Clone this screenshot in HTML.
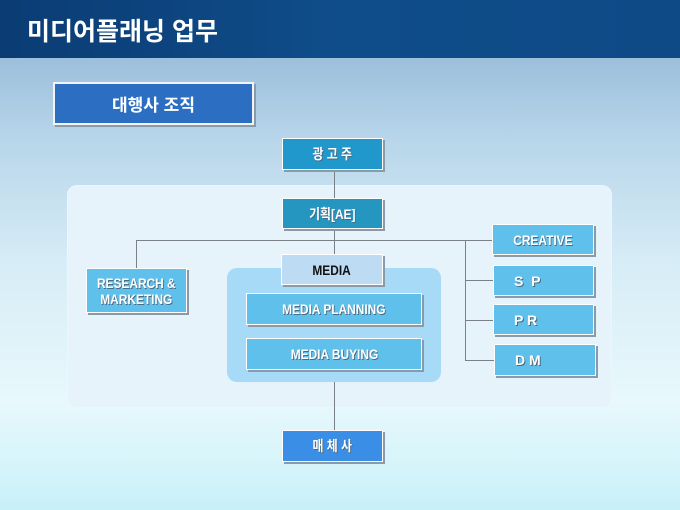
<!DOCTYPE html>
<html><head><meta charset="utf-8"><style>
body{margin:0;width:680px;height:510px;overflow:hidden;position:relative;font-family:"Liberation Sans","Noto Sans CJK KR",sans-serif;
background:linear-gradient(180deg,#9cbfdc 58px,#b8d6ea 140px,#d6ecf6 260px,#e8f8fc 400px,#d4f4fa 470px,#c8f0f8 510px);}
.hdr{position:absolute;left:0;top:0;width:680px;height:58px;background:linear-gradient(90deg,#0b3c74,#0f4d8a 50%,#0d4a86);}
.hdr span{position:absolute;left:27px;top:12px;color:#fff;font-size:25px;font-weight:bold;letter-spacing:0px}
.b{position:absolute;box-sizing:border-box;border:1px solid #fff;box-shadow:2px 2px 0 #8a9aa8;color:#fff;font-weight:bold;display:flex;align-items:center;justify-content:center;text-align:center;font-size:14px;text-shadow:1px 1px 0 #4a6a80;}
.b span{display:inline-block;transform:scaleX(0.85);}
.l{position:absolute;background:#7a8088}
.panel{position:absolute;left:67px;top:185px;width:545px;height:223px;border-radius:10px;background:#e6f3fb;border:1px dotted #f4faff;box-sizing:border-box}
.mp{position:absolute;left:227px;top:268px;width:214px;height:114px;border-radius:10px;background:#a6daf7}
</style></head><body>
<div class="hdr"><span>미디어플래닝 업무</span></div>
<div class="b" style="left:53px;top:82px;width:201px;height:43px;background:#2c6ec2;border:2px solid #f0f4f8;font-size:17px;text-shadow:none">대행사 조직</div>
<div class="panel"></div>
<div class="l" style="left:334px;top:170px;width:1px;height:260px"></div>
<div class="l" style="left:136px;top:240px;width:356px;height:1px"></div>
<div class="l" style="left:136px;top:240px;width:1px;height:28px"></div>
<div class="l" style="left:465px;top:240px;width:1px;height:120px"></div>
<div class="l" style="left:465px;top:280px;width:28px;height:1px"></div>
<div class="l" style="left:465px;top:320px;width:28px;height:1px"></div>
<div class="l" style="left:465px;top:360px;width:29px;height:1px"></div>
<div class="mp"></div>
<div class="b" style="left:282px;top:138px;width:101px;height:32px;background:#2198cc"><span>광 고 주</span></div>
<div class="b" style="left:282px;top:198px;width:101px;height:31px;background:#2596c0"><span>기획[AE]</span></div>
<div class="b" style="left:86px;top:268px;width:101px;height:45px;background:#60c0ec;font-size:14px;line-height:16px"><span>RESEARCH &amp;<br>MARKETING</span></div>
<div class="b" style="left:281px;top:254px;width:102px;height:31px;background:#bddcf4;color:#111;text-shadow:none"><span>MEDIA</span></div>
<div class="b" style="left:246px;top:293px;width:176px;height:32px;background:#5fc0ec;font-size:14px"><span>MEDIA PLANNING</span></div>
<div class="b" style="left:246px;top:338px;width:176px;height:32px;background:#5fc0ec;font-size:14px"><span>MEDIA BUYING</span></div>
<div class="b" style="left:492px;top:224px;width:102px;height:31px;background:#5fc0ec;font-size:14px"><span>CREATIVE</span></div>
<div class="b" style="left:493px;top:265px;width:101px;height:31px;background:#5fc0ec;justify-content:flex-start;padding-left:20px">S&nbsp;&nbsp;P</div>
<div class="b" style="left:493px;top:304px;width:101px;height:31px;background:#5fc0ec;justify-content:flex-start;padding-left:20px">P R</div>
<div class="b" style="left:494px;top:344px;width:102px;height:32px;background:#5fc0ec;justify-content:flex-start;padding-left:20px">D M</div>
<div class="b" style="left:282px;top:430px;width:101px;height:32px;background:#3a8ee6"><span>매 체 사</span></div>
</body></html>
